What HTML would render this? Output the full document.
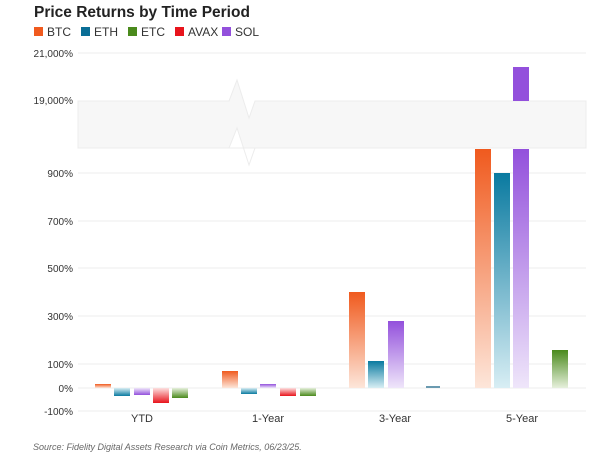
<!DOCTYPE html>
<html><head><meta charset="utf-8"><style>
html,body{margin:0;padding:0;background:#fff;}
svg{display:block;font-family:"Liberation Sans",sans-serif;}
</style></head><body>
<svg width="600" height="475" viewBox="0 0 600 475" xmlns="http://www.w3.org/2000/svg">
<defs>
<linearGradient id="btcP" x1="0" y1="0" x2="0" y2="1"><stop offset="0" stop-color="#f05a1e"/><stop offset="1" stop-color="#fde6da"/></linearGradient>
<linearGradient id="ethP" x1="0" y1="0" x2="0" y2="1"><stop offset="0" stop-color="#0a7aa0"/><stop offset="1" stop-color="#d8eef4"/></linearGradient>
<linearGradient id="solP" x1="0" y1="0" x2="0" y2="1"><stop offset="0" stop-color="#9350dc"/><stop offset="1" stop-color="#efe6fa"/></linearGradient>
<linearGradient id="etcP" x1="0" y1="0" x2="0" y2="1"><stop offset="0" stop-color="#4a8a1c"/><stop offset="1" stop-color="#e6f0dc"/></linearGradient>
<linearGradient id="ethN" x1="0" y1="0" x2="0" y2="1"><stop offset="0" stop-color="#d8eef4"/><stop offset="1" stop-color="#0a7aa0"/></linearGradient>
<linearGradient id="solN" x1="0" y1="0" x2="0" y2="1"><stop offset="0" stop-color="#efe6fa"/><stop offset="1" stop-color="#9350dc"/></linearGradient>
<linearGradient id="avaxN" x1="0" y1="0" x2="0" y2="1"><stop offset="0" stop-color="#fde0e0"/><stop offset="1" stop-color="#e8141c"/></linearGradient>
<linearGradient id="etcN" x1="0" y1="0" x2="0" y2="1"><stop offset="0" stop-color="#e6f0dc"/><stop offset="1" stop-color="#4a8a1c"/></linearGradient>
</defs>
<text x="34" y="17" font-size="15.5" font-weight="bold" fill="#222">Price Returns by Time Period</text>
<g font-size="12" fill="#333">
<rect x="34" y="27" width="9" height="9" fill="#f05a1e"/><text x="47" y="36">BTC</text>
<rect x="81" y="27" width="9" height="9" fill="#0a6e96"/><text x="94" y="36">ETH</text>
<rect x="128" y="27" width="9" height="9" fill="#4a8a1c"/><text x="141" y="36">ETC</text>
<rect x="175" y="27" width="9" height="9" fill="#e8141c"/><text x="188" y="36">AVAX</text>
<rect x="222" y="27" width="9" height="9" fill="#9350dc"/><text x="235" y="36">SOL</text>
</g>
<g stroke="#ececec" stroke-width="1">
<line x1="78" y1="53" x2="586" y2="53"/>
<line x1="78" y1="173" x2="586" y2="173"/>
<line x1="78" y1="221" x2="586" y2="221"/>
<line x1="78" y1="268" x2="586" y2="268"/>
<line x1="78" y1="316" x2="586" y2="316"/>
<line x1="78" y1="364" x2="586" y2="364"/>
<line x1="78" y1="388" x2="586" y2="388"/>
<line x1="78" y1="411" x2="586" y2="411"/>
</g>
<polygon points="78,101 229,101 237,80 249,118 255,101 586,101 586,148 78,148" fill="#f7f7f7" stroke="#ececec"/>
<polygon points="78,148 229,148 237,128 249,165 255,148 586,148" fill="#fff" stroke="#ececec"/>
<g font-size="10" fill="#333" text-anchor="end">
<text x="73" y="57">21,000%</text>
<text x="73" y="104">19,000%</text>
<text x="73" y="177">900%</text>
<text x="73" y="225">700%</text>
<text x="73" y="272">500%</text>
<text x="73" y="320">300%</text>
<text x="73" y="368">100%</text>
<text x="73" y="392">0%</text>
<text x="73" y="415">-100%</text>
</g>
<!-- YTD -->
<rect x="95" y="384" width="16" height="4" fill="url(#btcP)"/>
<rect x="114" y="388" width="16" height="8" fill="url(#ethN)"/>
<rect x="134" y="388" width="16" height="7" fill="url(#solN)"/>
<rect x="153" y="388" width="16" height="15" fill="url(#avaxN)"/>
<rect x="172" y="388" width="16" height="10" fill="url(#etcN)"/>
<!-- 1-Year -->
<rect x="222" y="371" width="16" height="17" fill="url(#btcP)"/>
<rect x="241" y="388" width="16" height="6" fill="url(#ethN)"/>
<rect x="260" y="384" width="16" height="4" fill="url(#solP)"/>
<rect x="280" y="388" width="16" height="8" fill="url(#avaxN)"/>
<rect x="300" y="388" width="16" height="8" fill="url(#etcN)"/>
<!-- 3-Year -->
<rect x="349" y="292" width="16" height="96" fill="url(#btcP)"/>
<rect x="368" y="361" width="16" height="27" fill="url(#ethP)"/>
<rect x="388" y="321" width="16" height="67" fill="url(#solP)"/>
<rect x="426" y="386" width="14" height="2" fill="#6a9ab0"/>
<!-- 5-Year -->
<rect x="475" y="149" width="16" height="239" fill="url(#btcP)"/>
<rect x="494" y="173" width="16" height="215" fill="url(#ethP)"/>
<rect x="513" y="149" width="16" height="239" fill="url(#solP)"/>
<rect x="513" y="67" width="16" height="34" fill="#9350dc"/>
<rect x="552" y="350" width="16" height="38" fill="url(#etcP)"/>
<g font-size="11" fill="#333" text-anchor="middle">
<text x="142" y="422">YTD</text>
<text x="268" y="422">1-Year</text>
<text x="395" y="422">3-Year</text>
<text x="522" y="422">5-Year</text>
</g>
<text x="33" y="450" font-size="9" font-style="italic" fill="#666">Source: Fidelity Digital Assets Research via Coin Metrics, 06/23/25.</text>
</svg>
</body></html>
